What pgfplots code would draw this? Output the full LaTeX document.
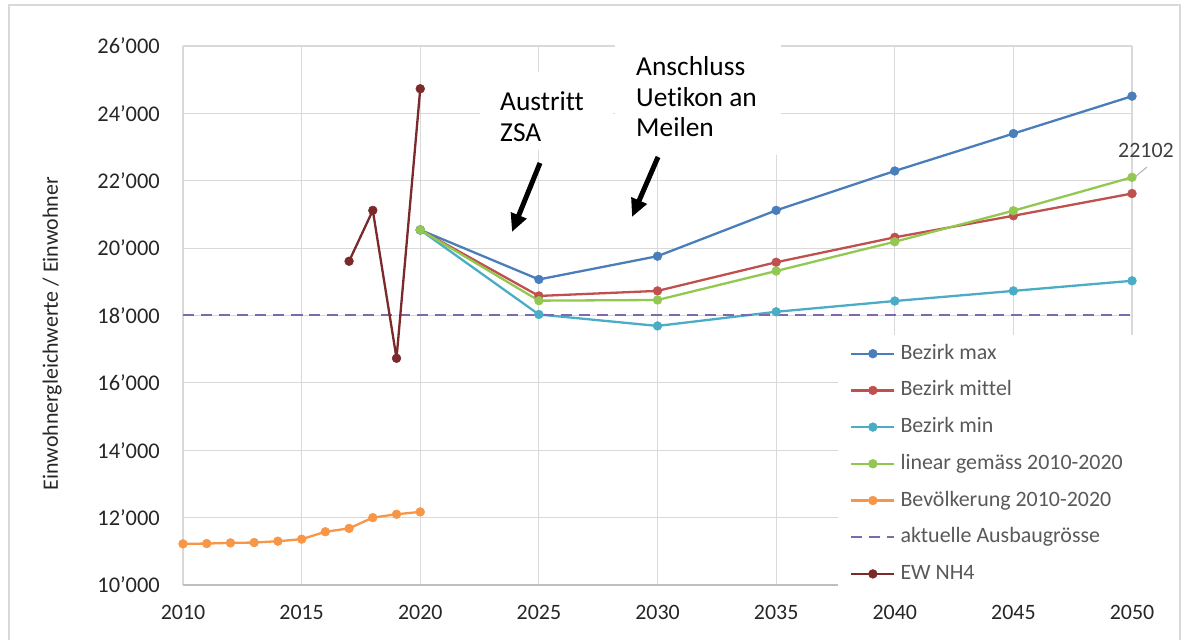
\documentclass[border=0pt]{standalone}
\usepackage{pgfplots}
\pgfplotsset{compat=1.18}
\usepackage{fontspec}
\setmainfont{Carlito}[Ligatures={NoCommon}]
\usetikzlibrary{arrows.meta}
\definecolor{cBlue}{HTML}{4A7EBB}
\definecolor{cRed}{HTML}{C0504D}
\definecolor{cCyan}{HTML}{4BACC6}
\definecolor{cGreen}{HTML}{92C850}
\definecolor{cOrange}{HTML}{F79646}
\definecolor{cPurple}{HTML}{7E68B0}
\definecolor{cDark}{HTML}{7A2A2A}
\definecolor{gridgray}{HTML}{D9D9D9}
\definecolor{axisgray}{HTML}{BFBFBF}
\definecolor{tickcol}{HTML}{262626}
\definecolor{legcol}{HTML}{595959}
\definecolor{lblcol}{HTML}{404040}
\begin{document}
\begin{tikzpicture}[x=1bp,y=1bp]
\useasboundingbox (0,0) rectangle (1186,640);
\draw[gridgray, line width=1.2bp] (9,-10) rectangle (1180,635);
\begin{axis}[
  at={(183bp,55bp)}, anchor=south west,
  width=949bp, height=539bp, scale only axis,
  xmin=2010, xmax=2050, ymin=10000, ymax=26000,
  clip=false,
  scaled y ticks=false, scaled x ticks=false,
  xtick={2010,2015,2020,2025,2030,2035,2040,2045,2050},
  xticklabels={2010,2015,2020,2025,2030,2035,2040,2045,2050},
  ytick={10000,12000,14000,16000,18000,20000,22000,24000,26000},
  yticklabels={10’000,12’000,14’000,16’000,18’000,20’000,22’000,24’000,26’000},
  grid=major, major grid style={draw=gridgray, line width=1.2bp},
  axis lines*=left,
  x axis line style={draw=axisgray, line width=1.4bp},
  y axis line style={draw=none},
  tick style={draw=none},
  major tick length=0pt,
  xticklabel style={font=\fontsize{22}{26}\selectfont, text=tickcol, inner sep=0pt, anchor=north, yshift=-20bp},
  yticklabel style={font=\fontsize{22.5}{26}\selectfont, text=tickcol, inner sep=0pt, anchor=east, xshift=-23bp},
  ylabel={Einwohnergleichwerte / Einwohner},
  ylabel style={font=\fontsize{22}{26}\selectfont, text=tickcol, at={(axis description cs:-0.138,0.466)}, anchor=center},
  legend style={at={(0.6902,0.4638)}, anchor=north west, draw=none, fill=white,
    inner xsep=12bp, inner ysep=8bp, row sep=15.7bp, column sep=5bp,
    font=\fontsize{22}{26}\selectfont, text=legcol,
    nodes={inner sep=0pt, text height=16bp, text depth=5bp}},
  legend cell align=left,
  legend image code/.code={\draw[mark repeat=2,mark phase=2] plot coordinates {(0bp,0bp) (21.5bp,0bp) (43bp,0bp)};},
  every axis plot/.append style={line width=2.3bp, line join=round, mark=*, mark size=4.4bp},
]
\addplot[color=cBlue, mark options={fill=cBlue, draw=cBlue, line width=0.5bp}] coordinates {
 (2020,20540) (2025,19070) (2030,19760) (2035,21120) (2040,22290) (2045,23400) (2050,24510)};
\addlegendentry{Bezirk max}
\addplot[color=cRed, mark options={fill=cRed, draw=cRed, line width=0.5bp}] coordinates {
 (2020,20540) (2025,18580) (2030,18730) (2035,19580) (2040,20320) (2045,20960) (2050,21620)};
\addlegendentry{Bezirk mittel}
\addplot[color=cCyan, mark options={fill=cCyan, draw=cCyan, line width=0.5bp}] coordinates {
 (2020,20540) (2025,18030) (2030,17690) (2035,18110) (2040,18430) (2045,18730) (2050,19030)};
\addlegendentry{Bezirk min}
\addplot[color=cGreen, mark options={fill=cGreen, draw=cGreen, line width=0.5bp}] coordinates {
 (2020,20540) (2025,18440) (2030,18460) (2035,19320) (2040,20190) (2045,21110) (2050,22102)};
\addlegendentry{linear gemäss 2010-2020}
\addplot[color=cOrange, mark options={fill=cOrange, draw=cOrange, line width=0.5bp}] coordinates {
 (2010,11220) (2011,11230) (2012,11250) (2013,11260) (2014,11300) (2015,11360)
 (2016,11580) (2017,11680) (2018,12000) (2019,12100) (2020,12170)};
\addlegendentry{Bevölkerung 2010-2020}
\addplot[color=cPurple, mark=none, line width=2bp, dash pattern=on 11bp off 7bp] coordinates {
 (2010,18000) (2015,18000) (2020,18000) (2025,18000) (2030,18000) (2035,18000) (2040,18000) (2045,18000) (2050,18000)};
\addlegendentry{aktuelle Ausbaugrösse}
\addplot[color=cDark, mark options={fill=cDark, draw=cDark, line width=0.5bp}] coordinates {
 (2017,19610) (2018,21120) (2019,16730) (2020,24730)};
\addlegendentry{EW NH4}
\end{axis}
% annotation boxes
\fill[white] (480,490) rectangle (613,568);
\fill[white] (615,485) rectangle (781,598);
\node[anchor=base west, inner sep=0pt, font=\fontsize{27.5}{30.5}\selectfont] at (500,529) {Austritt};
\node[anchor=base west, inner sep=0pt, font=\fontsize{27.5}{30.5}\selectfont] at (500,498) {ZSA};
\node[anchor=base west, inner sep=0pt, font=\fontsize{27.5}{30.5}\selectfont] at (636,564) {Anschluss};
\node[anchor=base west, inner sep=0pt, font=\fontsize{27.5}{30.5}\selectfont] at (636,533) {Uetikon an};
\node[anchor=base west, inner sep=0pt, font=\fontsize{27.5}{30.5}\selectfont] at (636,503) {Meilen};
\draw[line width=5bp, -{Triangle[width=16bp,length=18bp]}] (540,477) -- (512,408);
\draw[line width=5bp, -{Triangle[width=16bp,length=18bp]}] (658,483) -- (632,423);
% data label
\node[anchor=base, inner sep=0pt, text=lblcol, font=\fontsize{22}{26}\selectfont] at (1146,482) {22102};
\draw[gray!60, line width=1bp] (1135,463) -- (1147,473);
\end{tikzpicture}
\end{document}
